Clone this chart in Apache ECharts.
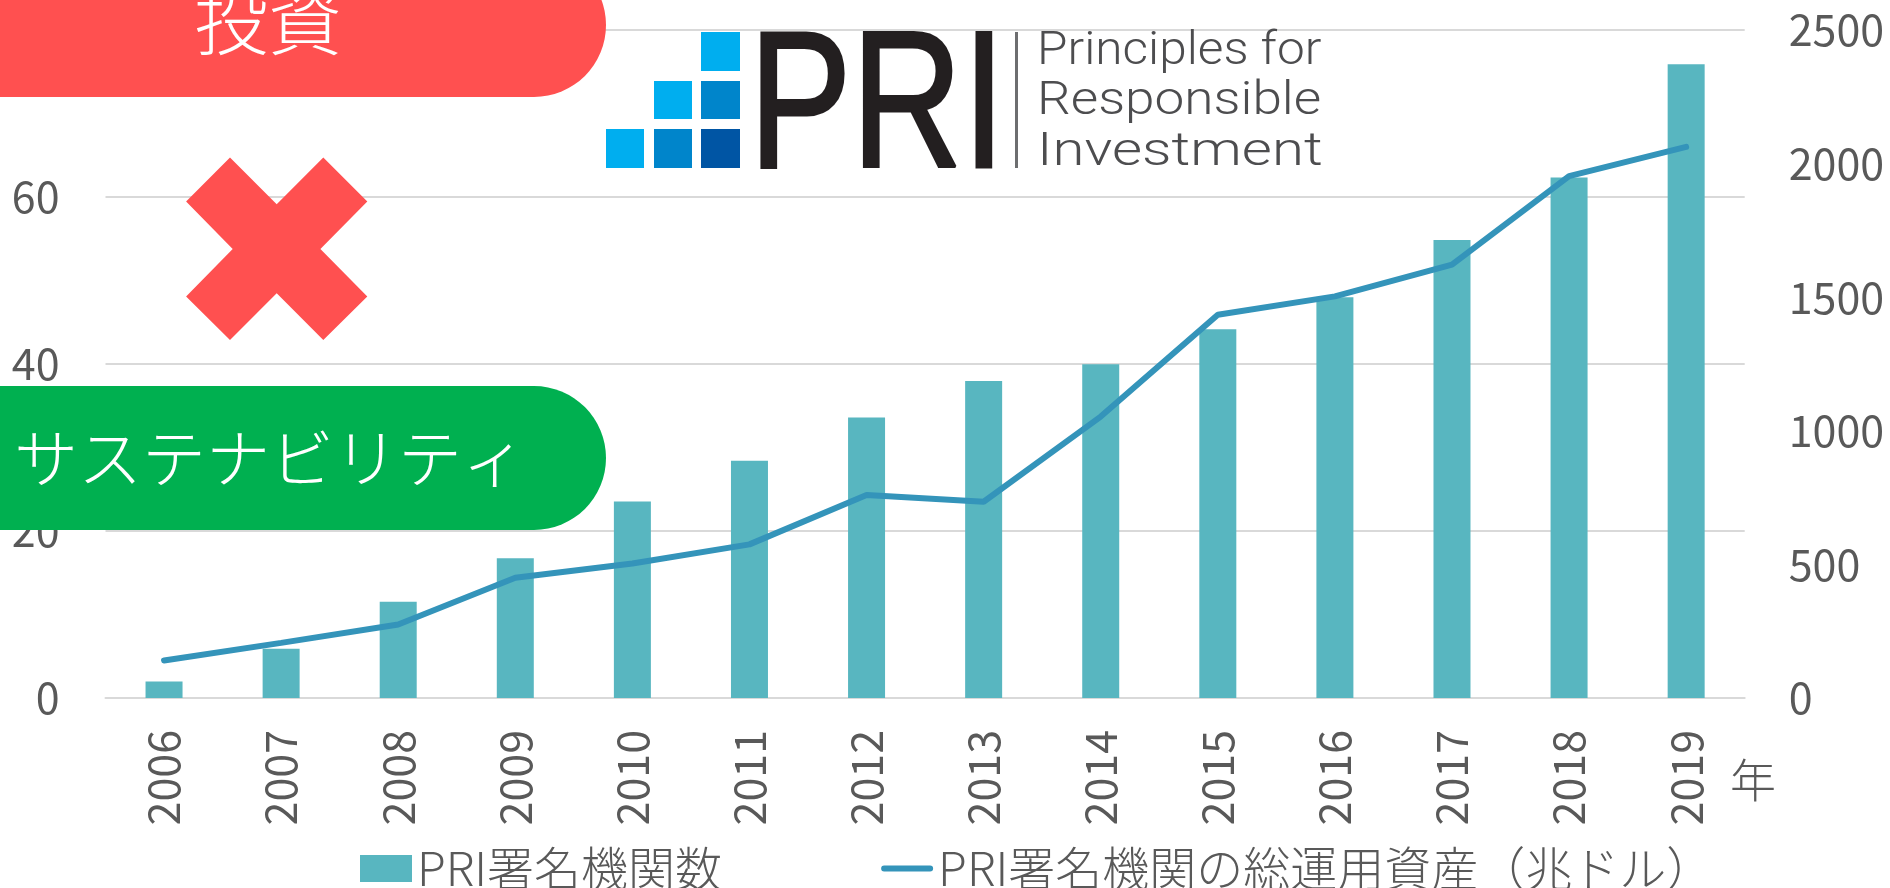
<!DOCTYPE html>
<html>
<head>
<meta charset="utf-8">
<style>
  html, body { margin: 0; padding: 0; background: #fff; overflow: hidden; }
  #chart { width: 1890px; height: 888px; }
</style>
</head>
<body>
<div id="chart"></div>
<script src="https://cdn.jsdelivr.net/npm/echarts@6/dist/echarts.min.js"></script>
<script>
const years = ['2006','2007','2008','2009','2010','2011','2012','2013','2014','2015','2016','2017','2018','2019'];
const signatories = [62, 184, 360, 523, 735, 888, 1050, 1186, 1249, 1380, 1500, 1714, 1948, 2372];
const assets = [4.5, 6.6, 8.8, 14.4, 16.1, 18.4, 24.3, 23.5, 33.7, 45.9, 48.1, 51.9, 62.5, 66.0];
const barName = 'PRI署名機関数';
const lineName = 'PRI署名機関の総運用資産（兆ドル）';

const jp = '"Noto Sans CJK JP", sans-serif';
const grey = '#595959';
const gridGrey = '#d9d9d9';

const chart = echarts.init(document.getElementById('chart'));

// logo squares and overlays sit on top of the chart
function square(x, y, w, h, fill) {
  return { type: 'rect', z: 100, shape: { x: x, y: y, width: w, height: h }, style: { fill: fill } };
}
function logoLine(text, x, baseline, sx) {
  return {
    type: 'text', z: 101, x: x, y: baseline, scaleX: sx,
    style: { text: text, fill: '#4d4d4f', font: '300 47px Roboto, sans-serif', textAlign: 'left', textVerticalAlign: 'bottom' }
  };
}
function noComma(v) { return String(v); }

const cross = [[230,157.5],[276.7,204.3],[323.3,157.5],[367.3,201.4],[320.4,248.9],[367.3,296.4],[323.3,340],[276.7,293.2],[230,340],[186.1,296.4],[232.7,248.9],[186.1,201.4]];

chart.setOption({
  animation: false,
  backgroundColor: '#fff',
  grid: { left: 105.5, right: 145.3, top: 30, bottom: 190 },
  legend: {
    left: 355, top: 840, itemWidth: 52, itemHeight: 27, itemGap: 159,
    textStyle: { color: grey, fontSize: 47, fontFamily: jp, fontWeight: 300, padding: [0, 0, 10, 0] },
    data: [
      { name: barName, icon: 'rect' },
      // plain line with round ends, the legend's default adds a dot
      { name: lineName, icon: 'path://M0 0L1 0L1 .01ZM3 10.5H49A3 3 0 0 1 49 16.5H3A3 3 0 0 1 3 10.5ZM0 27L1 27L1 26.99Z' }
    ]
  },
  xAxis: {
    type: 'category', data: years,
    axisTick: { show: false },
    axisLine: { lineStyle: { color: gridGrey, width: 2 } },
    axisLabel: { rotate: 90, margin: 32, interval: 0, color: grey, fontSize: 43, fontFamily: jp, fontWeight: 400 }
  },
  yAxis: [
    {
      type: 'value', min: 0, max: 80, interval: 20,
      axisLine: { show: false }, axisTick: { show: false },
      splitLine: { lineStyle: { color: gridGrey, width: 2 } },
      axisLabel: { margin: 46, color: grey, fontSize: 43, fontFamily: jp, fontWeight: 400, formatter: noComma }
    },
    {
      type: 'value', min: 0, max: 2500, interval: 500,
      axisLine: { show: false }, axisTick: { show: false },
      splitLine: { show: false },
      axisLabel: { margin: 44, color: grey, fontSize: 43, fontFamily: jp, fontWeight: 400, formatter: noComma }
    }
  ],
  series: [
    { name: barName, type: 'bar', yAxisIndex: 1, data: signatories, barWidth: 37, itemStyle: { color: '#58b6c0' } },
    { name: lineName, type: 'line', yAxisIndex: 0, data: assets, symbol: 'none', lineStyle: { color: '#3494ba', width: 6, cap: 'round' }, itemStyle: { color: '#3494ba' } }
  ],
  graphic: [
    { type: 'rect', z: 100, shape: { x: -100, y: -47, width: 706, height: 144, r: 72 }, style: { fill: '#ff5050' } },
    { type: 'text', z: 101, x: 268, y: 58, style: { text: '投資', fill: '#fff', font: '300 74px "Noto Sans CJK JP"', textAlign: 'center', textVerticalAlign: 'bottom' } },
    { type: 'polygon', z: 100, shape: { points: cross }, style: { fill: '#ff5050' } },
    { type: 'rect', z: 100, shape: { x: -100, y: 386, width: 706, height: 144, r: 72 }, style: { fill: '#00b050' } },
    { type: 'text', z: 101, x: 14, y: 458, style: { text: 'サステナビリティ', fill: '#fff', font: '300 64px "Noto Sans CJK JP"', textAlign: 'left', textVerticalAlign: 'middle' } },
    { type: 'text', z: 101, x: 1753, y: 780, style: { text: '年', fill: grey, font: '300 46px "Noto Sans CJK JP"', textAlign: 'center', textVerticalAlign: 'middle' } },
    square(701, 32, 39, 39, '#00aeef'),
    square(654, 81, 38, 38, '#00aeef'),
    square(701, 81, 39, 38, '#0085cb'),
    square(606, 129, 38, 39, '#00aeef'),
    square(654, 129, 38, 39, '#0085cb'),
    square(701, 129, 39, 39, '#0055a4'),
    { type: 'text', z: 101, x: 749, y: 211, scaleX: 0.788, style: { text: 'PRI', fill: '#231f20', stroke: '#231f20', lineWidth: 3, font: '195px "Liberation Sans"', textAlign: 'left', textVerticalAlign: 'bottom' } },
    square(1015, 32, 3, 136, '#6d6e70'),
    logoLine('Principles for', 1037, 76, 1.054),
    logoLine('Responsible', 1037, 126, 1.13),
    logoLine('Investment', 1037, 177, 1.237)
  ]
});
</script>
</body>
</html>
